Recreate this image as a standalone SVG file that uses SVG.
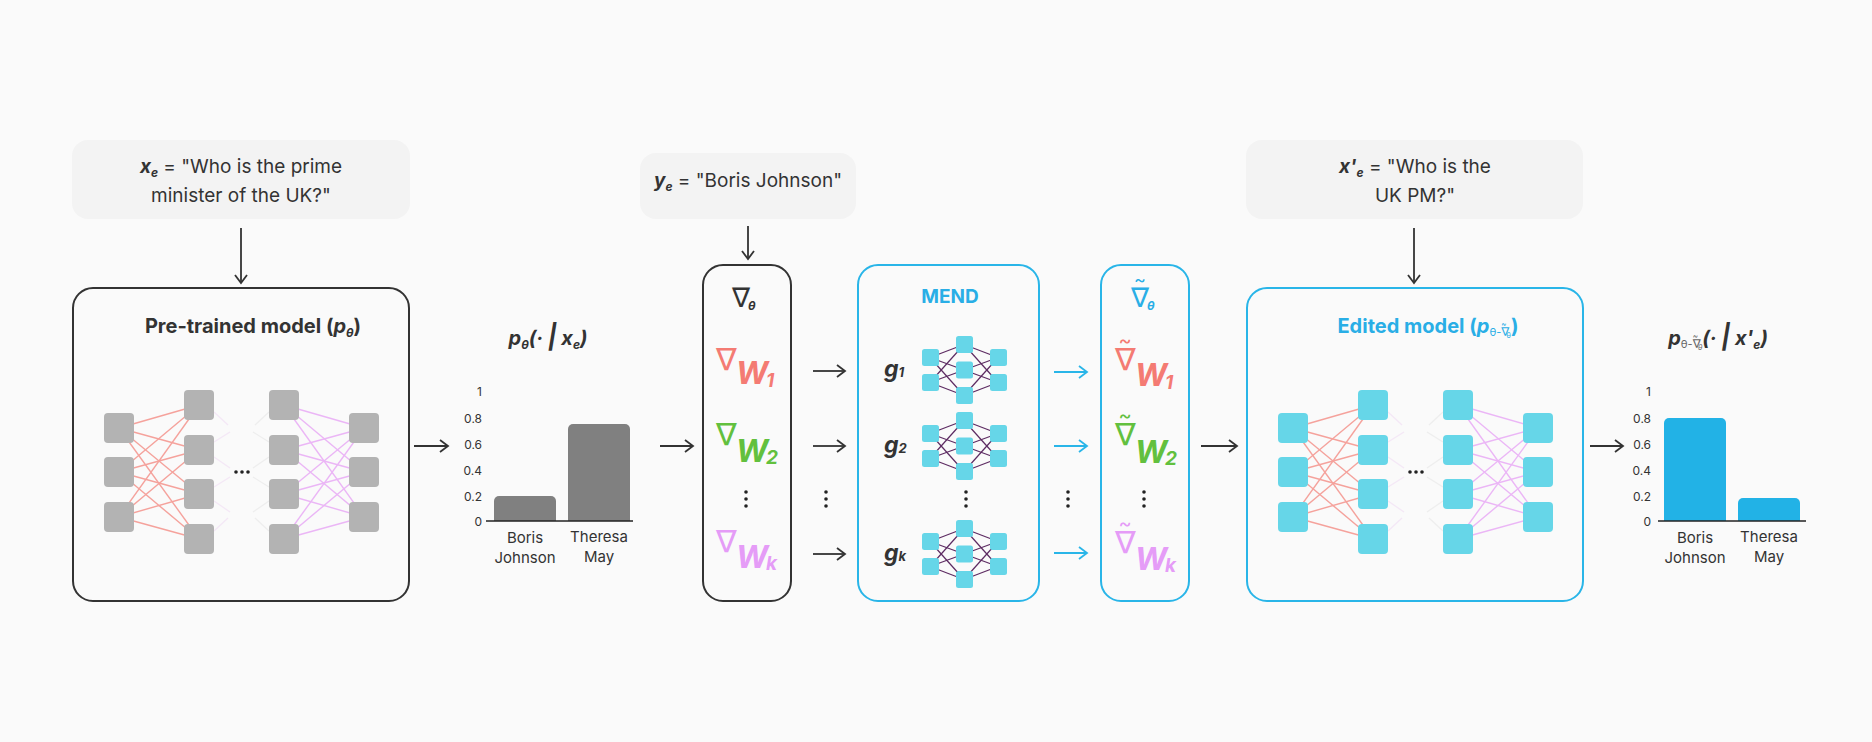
<svg xmlns="http://www.w3.org/2000/svg" xmlns:xlink="http://www.w3.org/1999/xlink" width="1872" height="742" viewBox="0 0 1872 742">
<style>
text{font-family:Inter,"Noto Sans","DejaVu Sans",sans-serif;fill:#333}
.q{font-size:19px;text-anchor:middle}
.bi{font-weight:bold;font-style:italic}
.b{font-weight:bold}
.nab{font-family:"DejaVu Sans",sans-serif;font-weight:normal;font-style:normal}
.til{font-family:Inter,"DejaVu Sans",sans-serif;font-weight:normal;text-anchor:middle}
.W{font-weight:bold;font-style:italic;font-size:31px}
.Ws{font-weight:bold;font-style:italic;font-size:19px}
.ax{font-size:12px;text-anchor:end}
.bl{font-size:15px;text-anchor:middle}
.qbox{fill:#f3f3f3}
.frame{fill:none;stroke:#333;stroke-width:2}
.bframe{fill:none;stroke:#29b5e8;stroke-width:2}
.arr{stroke:#333;stroke-width:1.8;fill:none;marker-end:url(#ah)}
.barr{stroke:#29b5e8;stroke-width:1.8;fill:none;marker-end:url(#bh)}
.red{stroke:#f5a29c;stroke-width:1.4}
.pur{stroke:#ebb6f6;stroke-width:1.4}
.stubp{stroke:#e9c6f0;stroke-width:1.2;opacity:.35}
.stubg{stroke:#d8d8d8;stroke-width:1.2;opacity:.35}
.mn{stroke:#5d2b62;stroke-width:1.2}
.blue{fill:#29aee6}
.rd{fill:#f47b73}
.gr{fill:#62c03e}
.pu{fill:#e59cf7}
</style>
<defs>
<marker id="ah" markerUnits="userSpaceOnUse" markerWidth="12" markerHeight="14" refX="9" refY="7" orient="auto"><path d="M1,1 L9,7 L1,13" fill="none" stroke="#333" stroke-width="1.8"/></marker>
<marker id="bh" markerUnits="userSpaceOnUse" markerWidth="12" markerHeight="14" refX="9" refY="7" orient="auto"><path d="M1,1 L9,7 L1,13" fill="none" stroke="#29b5e8" stroke-width="1.8"/></marker>
<g id="netlines">
<g class="red">
<line x1="119" y1="428" x2="199" y2="405"/><line x1="119" y1="428" x2="199" y2="450"/><line x1="119" y1="428" x2="199" y2="494"/><line x1="119" y1="428" x2="199" y2="539"/>
<line x1="119" y1="472" x2="199" y2="405"/><line x1="119" y1="472" x2="199" y2="450"/><line x1="119" y1="472" x2="199" y2="494"/><line x1="119" y1="472" x2="199" y2="539"/>
<line x1="119" y1="517" x2="199" y2="405"/><line x1="119" y1="517" x2="199" y2="450"/><line x1="119" y1="517" x2="199" y2="494"/><line x1="119" y1="517" x2="199" y2="539"/>
</g>
<g class="pur">
<line x1="284" y1="405" x2="364" y2="428"/><line x1="284" y1="405" x2="364" y2="472"/><line x1="284" y1="405" x2="364" y2="517"/>
<line x1="284" y1="450" x2="364" y2="428"/><line x1="284" y1="450" x2="364" y2="472"/><line x1="284" y1="450" x2="364" y2="517"/>
<line x1="284" y1="494" x2="364" y2="428"/><line x1="284" y1="494" x2="364" y2="472"/><line x1="284" y1="494" x2="364" y2="517"/>
<line x1="284" y1="539" x2="364" y2="428"/><line x1="284" y1="539" x2="364" y2="472"/><line x1="284" y1="539" x2="364" y2="517"/>
</g>
<g class="stubp">
<line x1="214" y1="412" x2="228" y2="425"/><line x1="214" y1="442" x2="230" y2="432"/><line x1="214" y1="457" x2="230" y2="468"/><line x1="214" y1="487" x2="230" y2="477"/><line x1="214" y1="501" x2="230" y2="512"/><line x1="214" y1="531" x2="228" y2="518"/>
</g>
<g class="stubg">
<line x1="269" y1="412" x2="255" y2="425"/><line x1="269" y1="442" x2="253" y2="432"/><line x1="269" y1="457" x2="253" y2="468"/><line x1="269" y1="487" x2="253" y2="477"/><line x1="269" y1="501" x2="253" y2="512"/><line x1="269" y1="531" x2="255" y2="518"/>
</g>
</g>
<g id="netnodes">
<rect x="104" y="413" width="30" height="30" rx="4"/><rect x="104" y="457" width="30" height="30" rx="4"/><rect x="104" y="502" width="30" height="30" rx="4"/>
<rect x="184" y="390" width="30" height="30" rx="4"/><rect x="184" y="435" width="30" height="30" rx="4"/><rect x="184" y="479" width="30" height="30" rx="4"/><rect x="184" y="524" width="30" height="30" rx="4"/>
<rect x="269" y="390" width="30" height="30" rx="4"/><rect x="269" y="435" width="30" height="30" rx="4"/><rect x="269" y="479" width="30" height="30" rx="4"/><rect x="269" y="524" width="30" height="30" rx="4"/>
<rect x="349" y="413" width="30" height="30" rx="4"/><rect x="349" y="457" width="30" height="30" rx="4"/><rect x="349" y="502" width="30" height="30" rx="4"/>
<circle cx="236" cy="472" r="1.8" fill="#222"/><circle cx="242" cy="472" r="1.8" fill="#222"/><circle cx="248" cy="472" r="1.8" fill="#222"/>
</g>
<g id="mini">
<g class="mn">
<line x1="930" y1="-12.5" x2="964" y2="-25.5"/><line x1="930" y1="-12.5" x2="964" y2="0"/><line x1="930" y1="-12.5" x2="964" y2="25.5"/>
<line x1="930" y1="12.5" x2="964" y2="-25.5"/><line x1="930" y1="12.5" x2="964" y2="0"/><line x1="930" y1="12.5" x2="964" y2="25.5"/>
<line x1="964" y1="-25.5" x2="998" y2="-12.5"/><line x1="964" y1="0" x2="998" y2="-12.5"/><line x1="964" y1="25.5" x2="998" y2="-12.5"/>
<line x1="964" y1="-25.5" x2="998" y2="12.5"/><line x1="964" y1="0" x2="998" y2="12.5"/><line x1="964" y1="25.5" x2="998" y2="12.5"/>
</g>
<g fill="#66d6e8">
<rect x="922" y="-21" width="17" height="17" rx="2.5"/><rect x="922" y="4" width="17" height="17" rx="2.5"/>
<rect x="956" y="-34" width="17" height="17" rx="2.5"/><rect x="956" y="-8.5" width="17" height="17" rx="2.5"/><rect x="956" y="17" width="17" height="17" rx="2.5"/>
<rect x="990" y="-21" width="17" height="17" rx="2.5"/><rect x="990" y="4" width="17" height="17" rx="2.5"/>
</g>
</g>
<g id="vdots" fill="#222"><circle cx="0" cy="492" r="1.8"/><circle cx="0" cy="499" r="1.8"/><circle cx="0" cy="506" r="1.8"/></g>
</defs>

<rect width="1872" height="742" fill="#fafafa"/>

<g id="query-xe">
<rect class="qbox" x="72" y="140" width="338" height="79" rx="16"/>
<text class="q" x="241" y="173"><tspan class="bi">x</tspan><tspan class="bi" font-size="12" dy="4">e</tspan><tspan dy="-4"> = "Who is the prime</tspan></text>
<text class="q" x="241" y="202">minister of the UK?"</text>
</g>

<g id="pretrained-model">
<rect class="frame" x="73" y="288" width="336" height="313" rx="20"/>
<text x="253" y="333" text-anchor="middle" class="b" font-size="20">Pre-trained model (<tspan class="bi">p</tspan><tspan class="bi" font-size="12" dy="4">θ</tspan><tspan dy="-4">)</tspan></text>
<use xlink:href="#netlines"/>
<use xlink:href="#netnodes" fill="#b3b3b3"/>
</g>

<g id="chart-before">
<text x="548" y="345" text-anchor="middle" class="bi" font-size="20">p<tspan font-size="12" dy="4">θ</tspan><tspan dy="-4">(· </tspan><tspan font-size="24">|</tspan><tspan> x</tspan><tspan font-size="12" dy="4">e</tspan><tspan dy="-4">)</tspan></text>
<text class="ax" x="482" y="396">1</text>
<text class="ax" x="482" y="422.5">0.8</text>
<text class="ax" x="482" y="448.5">0.6</text>
<text class="ax" x="482" y="474.5">0.4</text>
<text class="ax" x="482" y="500.5">0.2</text>
<text class="ax" x="482" y="526">0</text>
<path d="M494,521 V501 a5,5 0 0 1 5,-5 H551 a5,5 0 0 1 5,5 V521 Z" fill="#808080"/>
<path d="M568,521 V429 a5,5 0 0 1 5,-5 H625 a5,5 0 0 1 5,5 V521 Z" fill="#808080"/>
<line x1="486" y1="521" x2="633" y2="521" stroke="#222" stroke-width="1.5"/>
<text class="bl" x="525" y="543">Boris</text>
<text class="bl" x="525" y="563">Johnson</text>
<text class="bl" x="599" y="542">Theresa</text>
<text class="bl" x="599" y="562">May</text>
</g>

<g id="query-ye">
<rect class="qbox" x="640" y="153" width="216" height="66" rx="16"/>
<text class="q" x="748" y="187"><tspan class="bi">y</tspan><tspan class="bi" font-size="12" dy="4">e</tspan><tspan dy="-4"> = "Boris Johnson"</tspan></text>
</g>

<g id="gradients">
<rect class="frame" x="703" y="265" width="88" height="336" rx="20"/>
<text class="nab" x="732" y="307" font-size="27">∇</text>
<text class="bi" x="748" y="310" font-size="12">θ</text>
<text class="nab rd" x="716" y="370" font-size="31">∇</text>
<text class="W rd" x="736" y="384">W</text><text class="Ws rd" x="766" y="387">1</text>
<text class="nab gr" x="716" y="445" font-size="31">∇</text>
<text class="W gr" x="736" y="462">W</text><text class="Ws gr" x="766" y="464">2</text>
<text class="nab pu" x="716" y="552" font-size="31">∇</text>
<text class="W pu" x="736" y="568">W</text><text class="Ws pu" x="766" y="570">k</text>
<use xlink:href="#vdots" x="746"/>
</g>

<g id="mend">
<rect class="bframe" x="858" y="265" width="181" height="336" rx="20"/>
<text x="950" y="303" text-anchor="middle" class="b blue" font-size="19">MEND</text>
<text x="884" y="377" class="bi" font-size="23">g<tspan font-size="13">1</tspan></text>
<text x="884" y="453" class="bi" font-size="23">g<tspan font-size="13">2</tspan></text>
<text x="884" y="561" class="bi" font-size="23">g<tspan font-size="13">k</tspan></text>
<use xlink:href="#mini" y="370"/>
<use xlink:href="#mini" y="446"/>
<use xlink:href="#mini" y="554"/>
<use xlink:href="#vdots" x="966"/>
</g>

<g id="edited-gradients">
<rect class="bframe" x="1101" y="265" width="88" height="336" rx="20"/>
<text class="til blue" x="1140" y="286" font-size="18">~</text>
<text class="nab blue" x="1131" y="307" font-size="27">∇</text>
<text class="bi blue" x="1147" y="310" font-size="12">θ</text>
<text class="til rd" x="1125" y="347" font-size="20">~</text>
<text class="nab rd" x="1115" y="370" font-size="31">∇</text>
<text class="W rd" x="1135" y="386">W</text><text class="Ws rd" x="1165" y="389">1</text>
<text class="til gr" x="1125" y="422" font-size="20">~</text>
<text class="nab gr" x="1115" y="445" font-size="31">∇</text>
<text class="W gr" x="1135" y="463">W</text><text class="Ws gr" x="1165" y="465">2</text>
<text class="til pu" x="1125" y="530" font-size="20">~</text>
<text class="nab pu" x="1115" y="553" font-size="31">∇</text>
<text class="W pu" x="1135" y="570">W</text><text class="Ws pu" x="1165" y="572">k</text>
<use xlink:href="#vdots" x="1144"/>
</g>

<g id="query-xe-prime">
<rect class="qbox" x="1246" y="140" width="337" height="79" rx="16"/>
<text class="q" x="1415" y="173"><tspan class="bi">x'</tspan><tspan class="bi" font-size="12" dy="4">e</tspan><tspan dy="-4"> = "Who is the</tspan></text>
<text class="q" x="1415" y="202">UK PM?"</text>
</g>

<g id="edited-model">
<rect class="bframe" x="1247" y="288" width="336" height="313" rx="20"/>
<text x="1428" y="333" text-anchor="middle" class="b blue" font-size="20">Edited model (<tspan class="bi">p</tspan><tspan font-weight="normal" font-style="normal" font-size="11" dy="3">θ-</tspan><tspan class="nab" font-size="12">∇</tspan><tspan font-weight="normal" font-size="8" dx="-8" dy="-9">~</tspan><tspan font-weight="normal" font-size="7" dy="11">θ</tspan><tspan dy="-5">)</tspan></text>
<use xlink:href="#netlines" x="1174"/>
<use xlink:href="#netnodes" x="1174" fill="#66d6e8"/>
</g>

<g id="chart-after">
<text x="1718" y="345" text-anchor="middle" class="bi" font-size="20">p<tspan font-weight="normal" font-style="normal" font-size="11" dy="3" fill="#666">θ-</tspan><tspan class="nab" font-size="12" fill="#666">∇</tspan><tspan font-weight="normal" font-size="8" dx="-8" dy="-9" fill="#666">~</tspan><tspan font-weight="normal" font-size="7" dy="11" fill="#666">θ</tspan><tspan dy="-5">(· </tspan><tspan font-size="24">|</tspan><tspan> x'</tspan><tspan font-size="12" dy="4">e</tspan><tspan dy="-4">)</tspan></text>
<text class="ax" x="1651" y="396">1</text>
<text class="ax" x="1651" y="422.5">0.8</text>
<text class="ax" x="1651" y="448.5">0.6</text>
<text class="ax" x="1651" y="474.5">0.4</text>
<text class="ax" x="1651" y="500.5">0.2</text>
<text class="ax" x="1651" y="526">0</text>
<path d="M1664,521 V423 a5,5 0 0 1 5,-5 H1721 a5,5 0 0 1 5,5 V521 Z" fill="#22b2e6"/>
<path d="M1738,521 V503 a5,5 0 0 1 5,-5 H1795 a5,5 0 0 1 5,5 V521 Z" fill="#22b2e6"/>
<line x1="1658" y1="521" x2="1806" y2="521" stroke="#222" stroke-width="1.5"/>
<text class="bl" x="1695" y="543">Boris</text>
<text class="bl" x="1695" y="563">Johnson</text>
<text class="bl" x="1769" y="542">Theresa</text>
<text class="bl" x="1769" y="562">May</text>
</g>

<g id="connectors">
<line class="arr" x1="241" y1="228" x2="241" y2="283"/>
<line class="arr" x1="748" y1="226" x2="748" y2="259"/>
<line class="arr" x1="1414" y1="228" x2="1414" y2="283"/>
<line class="arr" x1="414" y1="446" x2="448" y2="446"/>
<line class="arr" x1="660" y1="446" x2="693" y2="446"/>
<line class="arr" x1="813" y1="371" x2="845" y2="371"/>
<line class="arr" x1="813" y1="446" x2="845" y2="446"/>
<line class="arr" x1="813" y1="554" x2="845" y2="554"/>
<use xlink:href="#vdots" x="826"/>
<line class="barr" x1="1054" y1="372" x2="1087" y2="372"/>
<line class="barr" x1="1054" y1="446" x2="1087" y2="446"/>
<line class="barr" x1="1054" y1="553" x2="1087" y2="553"/>
<use xlink:href="#vdots" x="1068"/>
<line class="arr" x1="1201" y1="446" x2="1237" y2="446"/>
<line class="arr" x1="1590" y1="446" x2="1623" y2="446"/>
</g>
</svg>
